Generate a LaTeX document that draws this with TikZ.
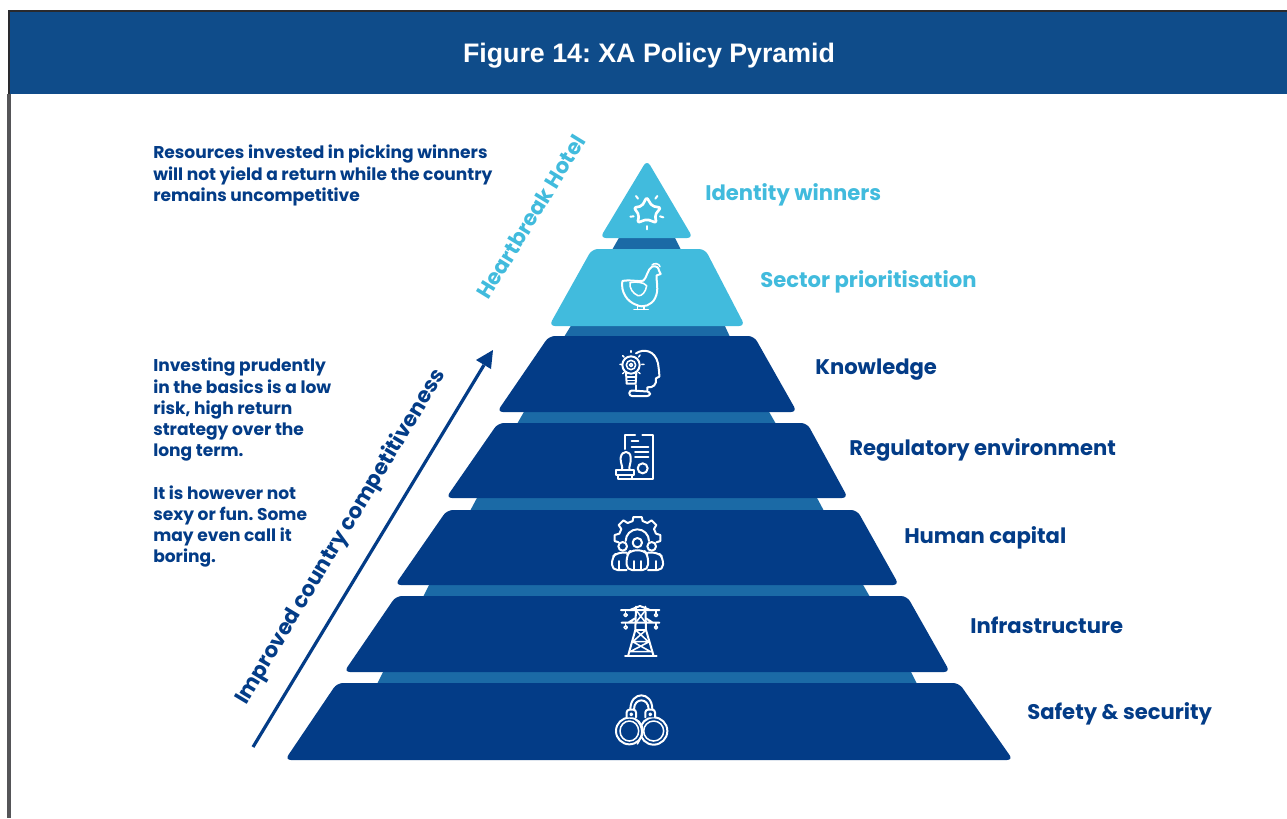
\documentclass[tikz,border=0pt]{standalone}
\usepackage{fontspec}
\setmainfont{Poppins}[BoldFont={Poppins Bold}]
\newfontfamily\titlefont{Liberation Sans}[BoldFont={Liberation Sans Bold}]
\frenchspacing
\definecolor{hdr}{HTML}{0F4C8A}
\definecolor{navy}{HTML}{033C87}
\definecolor{sky}{HTML}{41BBDD}
\definecolor{link}{HTML}{1B6AA6}
\definecolor{frm}{HTML}{2A2A2E}
\tikzset{
 x=0.75pt,y=-0.75pt,
 tier/.style={fill=navy,rounded corners=4.5pt},
 toptier/.style={fill=sky,rounded corners=4.5pt},
 linker/.style={fill=link},
 ico/.style={draw=white,line width=1.5pt,line cap=round,line join=round},
 icot/.style={draw=white,line width=1.15pt,line cap=round,line join=round},
 lab/.style={anchor=west,font=\bfseries\fontsize{15.85}{20}\selectfont,text=navy,inner sep=0pt},
 labs/.style={lab,text=sky},
 body/.style={anchor=north west,align=left,font=\bfseries\fontsize{12.8}{15.9}\selectfont,text=navy,inner sep=0pt},
}
\begin{document}
\begin{tikzpicture}
\useasboundingbox (0,0) rectangle (1287,818);
\fill[white] (0,0) rectangle (1287,818);
% frame and header
\fill[hdr] (9,11) rectangle (1287,94);
\draw[frm,line width=2pt] (1287,11) -- (9,11) -- (9,94);
\draw[frm!80,line width=2.4pt] (9,94) -- (9,818);
\node[font=\titlefont\bfseries\fontsize{20.08}{24}\selectfont,text=white,inner sep=0pt] (title) at (649,55.5) {Figure 14: XA Policy Pyramid};
% linkers
\fill[linker] (620,236) -- (674,236) -- (681,250) -- (612,250) -- cycle;
\fill[linker] (572,324) -- (724,324) -- (730,337) -- (564,337) -- cycle;
\fill[linker] (525,410) -- (768,410) -- (776,424) -- (517,424) -- cycle;
\fill[linker] (478,496) -- (816,496) -- (824,511) -- (470,511) -- cycle;
\fill[linker] (430,583) -- (862,583) -- (870,597) -- (423,597) -- cycle;
\fill[linker] (384,670) -- (910,670) -- (917,684) -- (377,684) -- cycle;
% tiers
\fill[toptier] (647,160) -- (693,238) -- (600,238) -- cycle;
\fill[toptier] (592,249) -- (705,249) -- (745,326) -- (549,326) -- cycle;
\fill[tier] (549,336) -- (754,336) -- (797,412) -- (497,412) -- cycle;
\fill[tier] (498,423) -- (807,423) -- (848,498) -- (446,498) -- cycle;
\fill[tier] (447,510) -- (857,510) -- (899,585) -- (395,585) -- cycle;
\fill[tier] (396,596) -- (907,596) -- (950,672) -- (344,672) -- cycle;
\fill[tier] (337,683) -- (959,683) -- (1013,760) -- (285,760) -- cycle;
% star icon
\begin{scope}[shift={(560,150)},scale=1/3]
 \draw[draw=white,line width=2pt,line join=round,rounded corners=1.5pt] (260,142) -- (276,168) -- (302,173) -- (285,195) -- (289,218) -- (260,208) -- (233,218) -- (237,195) -- (222,173) -- (246,168) -- cycle;
 \draw[ico] (228,138) -- (234,146); \draw[ico] (292,138) -- (286,146);
 \draw[ico] (211,200) -- (221,199); \draw[ico] (300,199) -- (310,202);
 \draw[ico] (261,228) -- (261,238);
 % hen
 \draw[ico] (187,393) .. controls (210,388) and (235,396) .. (250,392) .. controls (260,385) and (262,358) .. (276,350) .. controls (288,346) and (296,352) .. (297,362) -- (302,372) -- (290,376) .. controls (288,395) and (298,420) .. (285,445) .. controls (275,465) and (250,475) .. (230,465) .. controls (200,455) and (182,425) .. (187,393);
 \draw[icot] (276,345) .. controls (282,338) and (298,340) .. (300,350);
 \draw[icot] (210,398) .. controls (225,395) and (250,395) .. (260,407) .. controls (258,425) and (245,440) .. (234,437) .. controls (218,430) and (208,415) .. (210,398);
 \draw[icot] (232,465) -- (232,478) (222,478) -- (242,478) (252,468) -- (252,478) (245,478) -- (265,478);
\end{scope}
% head and document
\begin{scope}[shift={(560,335)},scale=1/3]
 \draw[ico] (213,90) circle (26);
 \draw[icot] (213,90) circle (14);
 \draw[icot] (213,90) circle (5);
 \draw[ico] (198,112) -- (200,146) -- (227,146) -- (229,112);
 \draw[icot] (200,126) -- (227,126) (200,136) -- (227,136);
 \draw[icot] (213,47) -- (213,52) (180,88) -- (185,88) (245,88) -- (252,88) (188,62) -- (192,66) (240,60) -- (236,66) (188,116) -- (192,112) (240,116) -- (236,112);
 \draw[ico] (228,55) .. controls (250,40) and (285,45) .. (294,85) .. controls (296,100) and (298,112) .. (298,125) -- (288,130) .. controls (290,150) and (280,158) .. (262,157) -- (262,166);
 \draw[ico] (227,150) -- (227,166);
 \draw[ico,rounded corners=2pt] (208,166) -- (270,170) -- (270,183) -- (208,183) -- cycle;
 % document
 \draw[ico] (195,342) -- (195,300) -- (225,300) (247,300) -- (280,300) -- (280,432) -- (215,432);
 \draw[ico] (215,318) -- (235,318) (215,335) -- (265,335) (225,350) -- (265,350) (225,366) -- (265,366);
 \draw[ico] (248,400) circle (15);
 \draw[ico] (186,405) .. controls (190,395) and (180,385) .. (182,368) .. controls (185,345) and (212,345) .. (212,368) .. controls (214,385) and (205,395) .. (209,405);
 \draw[ico] (168,405) rectangle (222,420);
 \draw[ico] (175,420) -- (175,432) -- (215,432) -- (215,420);
\end{scope}
% gear people and pylon
\begin{scope}[shift={(560,505)},scale=1/3]
 \draw[ico] (176,112) -- (164,108) -- (164,90) -- (178,86) -- (184,72) -- (176,60) -- (190,46) -- (203,54) -- (218,48) -- (220,36) -- (245,36) -- (248,48) -- (262,54) -- (275,46) -- (289,60) -- (282,72) -- (288,86) -- (301,90) -- (301,108) -- (289,112);
 \draw[ico] (197,108) arc (180:360:35);
 \draw[ico] (188,124) circle (13) (232,113) circle (14) (275,124) circle (13);
 \draw[ico,rounded corners=4pt] (200,195) -- (200,150) -- (212,136) -- (252,136) -- (264,150) -- (264,195) -- cycle;
 \draw[ico,rounded corners=4pt] (200,143) -- (170,143) -- (156,158) -- (156,195) -- (200,195);
 \draw[ico,rounded corners=4pt] (264,143) -- (295,143) -- (309,158) -- (309,195) -- (264,195);
 \draw[ico] (178,168) -- (178,195) (222,168) -- (222,195) (243,168) -- (243,195) (288,168) -- (288,195);
 % pylon
 \draw[ico] (183,315) -- (298,315) (210,315) -- (240,303) -- (270,315);
 \draw[ico] (185,353) -- (298,353) (205,353) -- (225,340) (258,340) -- (278,353);
 \draw[icot] (197,315) -- (197,325) (288,315) -- (288,325) (197,353) -- (197,362) (288,353) -- (288,362);
 \draw[icot] (197,330) circle (5) (288,330) circle (5) (197,367) circle (5) (288,367) circle (5);
 \draw[ico] (228,305) -- (226,375) -- (205,450) (256,305) -- (258,375) -- (280,450);
 \draw[ico] (195,452) -- (290,452);
 \draw[icot] (228,315) -- (257,353) (257,315) -- (227,353) (227,375) -- (258,375) (227,375) -- (265,410) (258,375) -- (218,410) (218,410) -- (268,410) (218,410) -- (272,440) (268,410) -- (210,440) (210,440) -- (275,440);
\end{scope}
% handcuffs
\begin{scope}[shift={(560,670)},scale=1/3]
 \draw[ico] (281,183) circle (41);
 \draw[icot] (281,183) circle (30);
 \fill[navy] (208,183) circle (41);
 \draw[ico] (208,183) circle (40);
 \draw[icot] (208,183) ellipse (28 and 30);
 \draw[icot] (228,148) .. controls (250,170) and (250,195) .. (232,222);
 \draw[ico] (222,118) .. controls (222,82) and (266,82) .. (266,118);
 \draw[ico] (211,118) .. controls (211,62) and (277,62) .. (277,118);
 \fill[navy] (198,118) rectangle (229,142) (256,118) rectangle (287,142);
 \draw[ico,rounded corners=2pt] (200,142) -- (200,119) -- (228,119) -- (228,142);
 \draw[ico,rounded corners=2pt] (256,142) -- (256,119) -- (285,119) -- (285,142);
 \draw[icot] (214,133) circle (3.5) (271,133) circle (3.5);
\end{scope}
% labels
\node[labs] (l1) at (705,195) {Identity winners};
\node[labs] (l2) at (760,282) {Sector prioritisation};
\node[lab] (l3) at (815,370) {Knowledge};
\node[lab] (l4) at (849,450) {Regulatory environment};
\node[lab] (l5) at (904,538) {Human capital};
\node[lab] (l6) at (970,625) {Infrastructure};
\node[lab] (l7) at (1027,714) {Safety \& security};
% notes
\node[body] (n1) at (153,145) {Resources invested in picking winners\\will not yield a return while the country\\remains uncompetitive};
\node[body] (n2) at (153,358) {Investing prudently\\in the basics is a low\\risk, high return\\strategy over the\\long term.\\[15.9pt]It is however not\\sexy or fun. Some\\may even call it\\boring.};
% axis
\coordinate (a0) at (253,747);
\coordinate (a1) at (493,350);
\draw[navy,line width=2.4pt] (a0) -- (484,365);
\fill[navy] (493,350) -- (491,369) -- (476,360) -- cycle;
\node[rotate=59,font=\bfseries\fontsize{16}{20}\selectfont,text=navy,inner sep=0pt] (ax) at (341,537) {Improved country competitiveness};
\node[rotate=58.5,font=\bfseries\fontsize{16}{20}\selectfont,text=sky,inner sep=0pt] (hh) at (531,217) {Heartbreak Hotel};
\end{tikzpicture}
\end{document}
